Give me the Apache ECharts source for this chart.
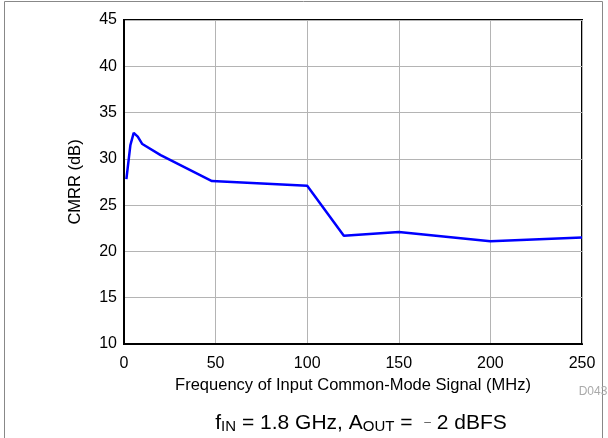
<!DOCTYPE html>
<html>
<head>
<meta charset="utf-8">
<script src="https://cdn.jsdelivr.net/npm/echarts@6/dist/echarts.min.js"></script>
<style>
html, body { margin: 0; padding: 0; background: #fff; }
#chart { width: 608px; height: 438px; }
</style>
</head>
<body>
<div id="chart"></div>
<script>
// 数据
var freq = [1.3, 3.5, 5.3, 7.5, 10, 20, 48, 100, 120, 150, 200, 250];
var cmrr = [27.8, 31.5, 32.8, 32.4, 31.6, 30.4, 27.6, 27.1, 21.7, 22.1, 21.1, 21.5];
var xTicks = [0, 50, 100, 150, 200, 250];
var yTicks = [10, 15, 20, 25, 30, 35, 40, 45];

var points = [];
for (var i = 0; i < freq.length; i++) {
	points.push([freq[i], cmrr[i]]);
}

var font = 'Liberation Sans, Arial, sans-serif';

var option = {
	animation : false,
	grid : {
		left : 124,
		right : 26,
		top : 20,
		bottom : 94,
		show : true,
		borderColor : '#000',
		borderWidth : 2,
		backgroundColor : 'transparent'
	},
	graphic : [ {
		type : 'rect',
		shape : { x : 4.5, y : 1.5, width : 598, height : 460 },
		style : { fill : 'none', stroke : '#888', lineWidth : 1 },
		silent : true
	}, {
		type : 'text',
		style : {
			x : 593,
			y : 392,
			text : 'D043',
			align : 'center',
			verticalAlign : 'middle',
			fill : '#aaa',
			fontSize : 12,
			fontFamily : font
		}
	}, {
		type : 'text',
		style : {
			x : 361,
			y : 422,
			align : 'center',
			verticalAlign : 'middle',
			text : '{a|f}{s|IN}{a| = 1.8 GHz, A}{s|OUT}{a| =  }{m|–}{a| 2 dBFS}',
			rich : {
				a : { fontSize : 21, fontFamily : font, fill : '#000', lineHeight : 24, verticalAlign : 'bottom' },
				s : { fontSize : 15, fontFamily : font, fill : '#000', lineHeight : 12, verticalAlign : 'bottom' },
				m : { fontSize : 12, fontFamily : font, fill : '#555', lineHeight : 24, verticalAlign : 'bottom', padding : [ 0, 0, 5, 0 ] }
			}
		}
	} ],
	xAxis : {
		type : 'value',
		min : 0,
		max : 250,
		interval : 50,
		name : 'Frequency of Input Common-Mode Signal (MHz)',
		nameLocation : 'middle',
		nameGap : 30,
		nameTextStyle : { color : '#000', fontSize : 16.5, fontFamily : font },
		axisLine : { show : true, lineStyle : { color : '#000', width : 2 } },
		axisTick : { show : false },
		axisLabel : { color : '#000', fontSize : 16, fontFamily : font, margin : 12 },
		splitLine : { show : true, lineStyle : { color : '#b4b4b4', width : 1 } }
	},
	yAxis : {
		type : 'value',
		min : 10,
		max : 45,
		interval : 5,
		name : 'CMRR (dB)',
		nameLocation : 'middle',
		nameGap : 40,
		nameTextStyle : { color : '#000', fontSize : 16.5, fontFamily : font },
		axisLine : { show : true, lineStyle : { color : '#000', width : 2 } },
		axisTick : { show : false },
		axisLabel : { color : '#000', fontSize : 16, fontFamily : font, margin : 7 },
		splitLine : { show : true, lineStyle : { color : '#b4b4b4', width : 1 } }
	},
	series : [ {
		type : 'line',
		data : points,
		symbol : 'none',
		lineStyle : { color : '#0000ff', width : 2.5 },
		z : 5
	} ]
};

var myChart = echarts.init(document.getElementById('chart'));
myChart.setOption(option);
</script>
</body>
</html>
